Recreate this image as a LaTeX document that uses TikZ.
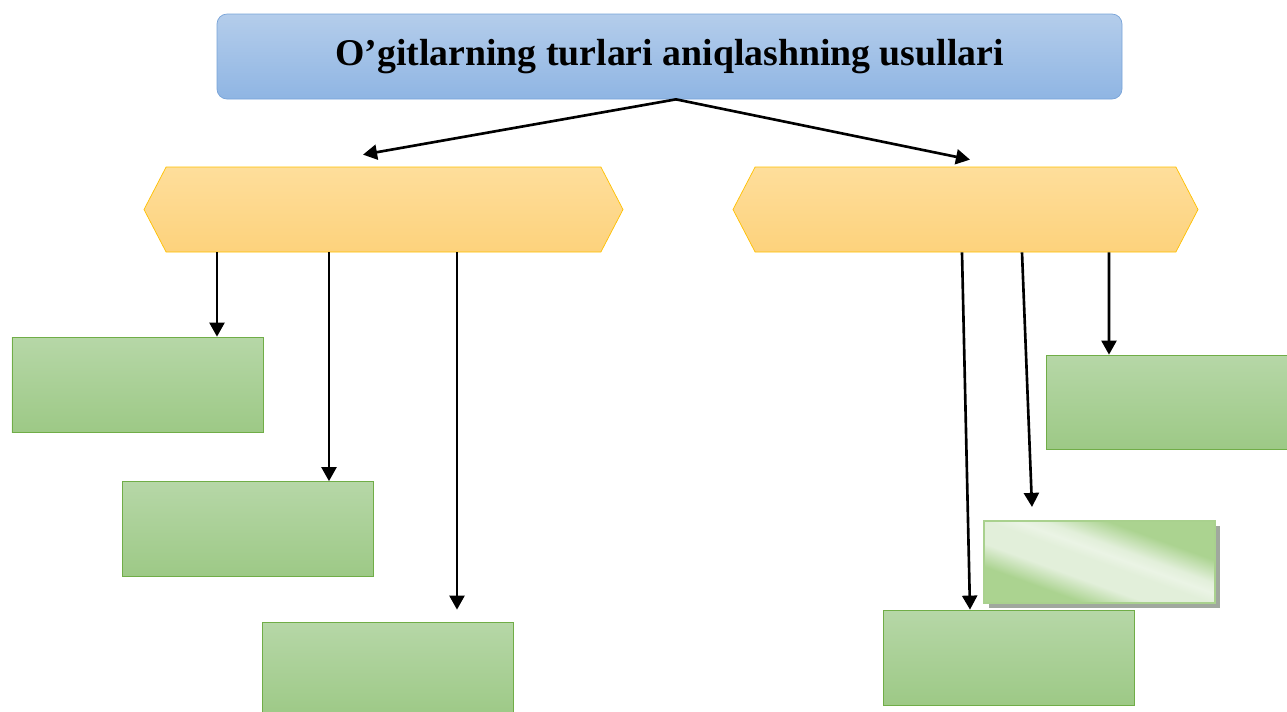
\documentclass[tikz,border=0pt]{standalone}
\usepackage{fontspec}
\setmainfont{Liberation Serif}
\usepackage{tikz}
\usetikzlibrary{arrows.meta, positioning, shapes.symbols, shadows}

\definecolor{titletop}{RGB}{180,205,235}
\definecolor{titlebot}{RGB}{143,181,227}
\definecolor{titleline}{RGB}{120,163,216}
\definecolor{hextop}{RGB}{254,222,155}
\definecolor{hexbot}{RGB}{253,210,124}
\definecolor{hexline}{RGB}{255,192,0}
\definecolor{greentop}{RGB}{182,215,167}
\definecolor{greenbot}{RGB}{157,201,134}
\definecolor{greenline}{RGB}{112,173,71}
\definecolor{glossdark}{RGB}{171,211,144}
\definecolor{glosslight}{RGB}{226,239,218}
\definecolor{glossline}{RGB}{169,209,142}
\definecolor{glossshadow}{RGB}{160,168,158}

\pgfdeclarehorizontalshading{glossgreen}{100bp}{%
  color(0bp)=(glossdark); color(32bp)=(glossdark); color(41bp)=(glosslight);
  color(50bp)=(glosslight); color(54bp)=(glosslight!70!white); color(58bp)=(glosslight);
  color(67bp)=(glossdark); color(100bp)=(glossdark)}

\begin{document}
\begin{tikzpicture}[
  font=\bfseries,
  titlebox/.style={draw=titleline, rounded corners=0.2cm, top color=titletop, bottom color=titlebot,
    minimum width=18.1cm, minimum height=1.7cm, align=center, font=\fontsize{21.5}{24}\selectfont\bfseries},
  hexbox/.style={draw=hexline, signal, signal to=west and east, signal pointer angle=125,
    top color=hextop, bottom color=hexbot, inner sep=0pt, minimum height=1.7cm},
  gbox/.style={draw=greenline, top color=greentop, bottom color=greenbot,
    minimum width=5.02cm, minimum height=1.9cm, inner sep=0pt},
  glossbox/.style={draw=glossline, line width=1.2pt, shading=glossgreen, shading angle=70,
    minimum width=4.62cm, minimum height=1.64cm, inner sep=0pt,
    drop shadow={shadow xshift=0.1cm, shadow yshift=-0.1cm, fill=glossshadow, opacity=1}},
  arrow/.style={-{Triangle[length=8pt, width=8.5pt]}, line width=1.5pt}
]

\useasboundingbox (0,0) rectangle (25.74,-14.22);

% --- Title ---
\node[titlebox] (title) at (13.39,-1.13) {O’gitlarning turlari aniqlashning usullari};

% --- Two branches ---
\node[hexbox, minimum width=9.58cm] (lhex) at (7.67,-4.19) {};
\node[hexbox, minimum width=9.3cm] (rhex) at (19.31,-4.19) {};

% --- Left boxes ---
\node[gbox] (lone) at (2.75,-7.69) {};
\node[gbox] (ltwo) at (4.95,-10.58) {};
\node[gbox] (lthree) at (7.75,-13.39) {};

% --- Right boxes ---
\node[gbox, minimum height=1.88cm] (rone) at (23.43,-8.04) {};
\node[glossbox] (rtwo) at (21.99,-11.24) {};
\node[gbox] (rthree) at (20.17,-13.15) {};

% --- Arrows ---
\draw[arrow] ([xshift=0.13cm]title.south) -- ([xshift=-0.41cm, yshift=0.24cm]lhex.north);
\draw[arrow] ([xshift=0.13cm]title.south) -- ([xshift=0.09cm, yshift=0.14cm]rhex.north);

\draw[arrow] ([xshift=-3.33cm]lhex.south) -- ([xshift=-3.33cm]lhex.south |- lone.north);
\draw[arrow] ([xshift=-1.09cm]lhex.south) -- ([xshift=-1.09cm]lhex.south |- ltwo.north);
\draw[arrow] ([xshift=1.47cm]lhex.south) -- ([xshift=1.47cm, yshift=0.24cm]lhex.south |- lthree.north);

\draw[arrow] ([xshift=-0.07cm]rhex.south) -- ([xshift=-0.77cm]rthree.north);
\draw[arrow] ([xshift=1.13cm]rhex.south) -- ([xshift=-1.35cm, yshift=0.26cm]rtwo.north);
\draw[arrow] ([xshift=2.87cm]rhex.south) -- ([xshift=-1.25cm]rone.north);

\end{tikzpicture}
\end{document}
